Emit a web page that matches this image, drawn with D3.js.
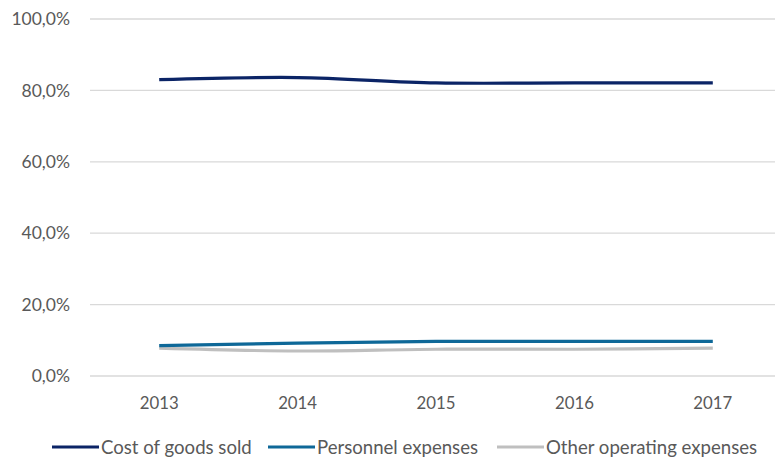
<!DOCTYPE html>
<html>
<head>
<meta charset="utf-8">
<script src="https://cdn.jsdelivr.net/npm/d3@7"></script>
<style>
  html, body { margin: 0; padding: 0; background: #fff; }
  svg { display: block; font-family: Lato, "Open Sans", sans-serif; }
</style>
</head>
<body>
<svg id="chart" width="775" height="464"></svg>
<script>
// Cost structure as share of revenue, 2013–2017
const years = ["2013", "2014", "2015", "2016", "2017"];
const costOfGoodsSold = [83.0, 83.6, 82.1, 82.1, 82.1];
const personnelExpenses = [8.5, 9.2, 9.7, 9.7, 9.7];
const otherOperatingExpenses = [7.8, 7.0, 7.5, 7.5, 7.8];
const yTicks = [0, 20, 40, 60, 80, 100];
const seriesNames = ["Cost of goods sold", "Personnel expenses", "Other operating expenses"];
const seriesColors = ["#0b2466", "#0e6898", "#bfbfbf"];

const series = [costOfGoodsSold, personnelExpenses, otherOperatingExpenses].map((values, i) => ({
  name: seriesNames[i], color: seriesColors[i], values
}));

const svg = d3.select("#chart");
const plot = { left: 90, right: 782, top: 19, bottom: 376 };

const x = d3.scaleBand().domain(years).range([plot.left, plot.right]);
const y = d3.scaleLinear().domain([0, 100]).range([plot.bottom, plot.top]);
const fmt = v => d3.format(".1f")(v).replace(".", ",") + "%";

// horizontal gridlines
svg.append("g")
  .selectAll("line")
  .data(yTicks)
  .join("line")
  .attr("x1", plot.left).attr("x2", plot.right)
  .attr("y1", d => y(d)).attr("y2", d => y(d))
  .attr("stroke", "#d9d9d9").attr("stroke-width", 1.3);

// y axis labels
const yAxis = d3.axisLeft(y).tickValues(yTicks).tickFormat(fmt).tickSize(0).tickPadding(0);
svg.append("g")
  .attr("transform", `translate(70,0)`)
  .call(yAxis)
  .call(g => g.select(".domain").remove())
  .call(g => g.selectAll("text")
    .attr("fill", "#595959").attr("font-size", 17.5)
    .attr("font-family", "Lato, sans-serif"));

// x axis labels
const xAxis = d3.axisBottom(x).tickSize(0).tickPadding(0);
svg.append("g")
  .attr("transform", `translate(0,${plot.bottom + 21})`)
  .call(xAxis)
  .call(g => g.select(".domain").remove())
  .call(g => g.selectAll("text")
    .attr("fill", "#595959").attr("font-size", 16.8)
    .attr("font-family", "Lato, sans-serif"));

// smoothed series lines
const line = d3.line()
  .x((d, i) => x(years[i]) + x.bandwidth() / 2)
  .y(d => y(d))
  .curve(d3.curveCatmullRom.alpha(0.5));

svg.append("g")
  .selectAll("path")
  .data(series.slice().reverse())
  .join("path")
  .attr("d", d => line(d.values))
  .attr("fill", "none")
  .attr("stroke", d => d.color)
  .attr("stroke-width", 3.2);

// legend
const legendX = [52, 268, 497];
const legend = svg.append("g").attr("transform", "translate(0,447)");
const item = legend.selectAll("g")
  .data(series)
  .join("g")
  .attr("transform", (d, i) => `translate(${legendX[i]},0)`);
item.append("line")
  .attr("x1", 0).attr("x2", 47)
  .attr("stroke", d => d.color).attr("stroke-width", 3.2);
item.append("text")
  .attr("x", 49).attr("dy", "0.35em")
  .attr("fill", "#595959").attr("font-size", 18.6)
  .text(d => d.name);
</script>
</body>
</html>
